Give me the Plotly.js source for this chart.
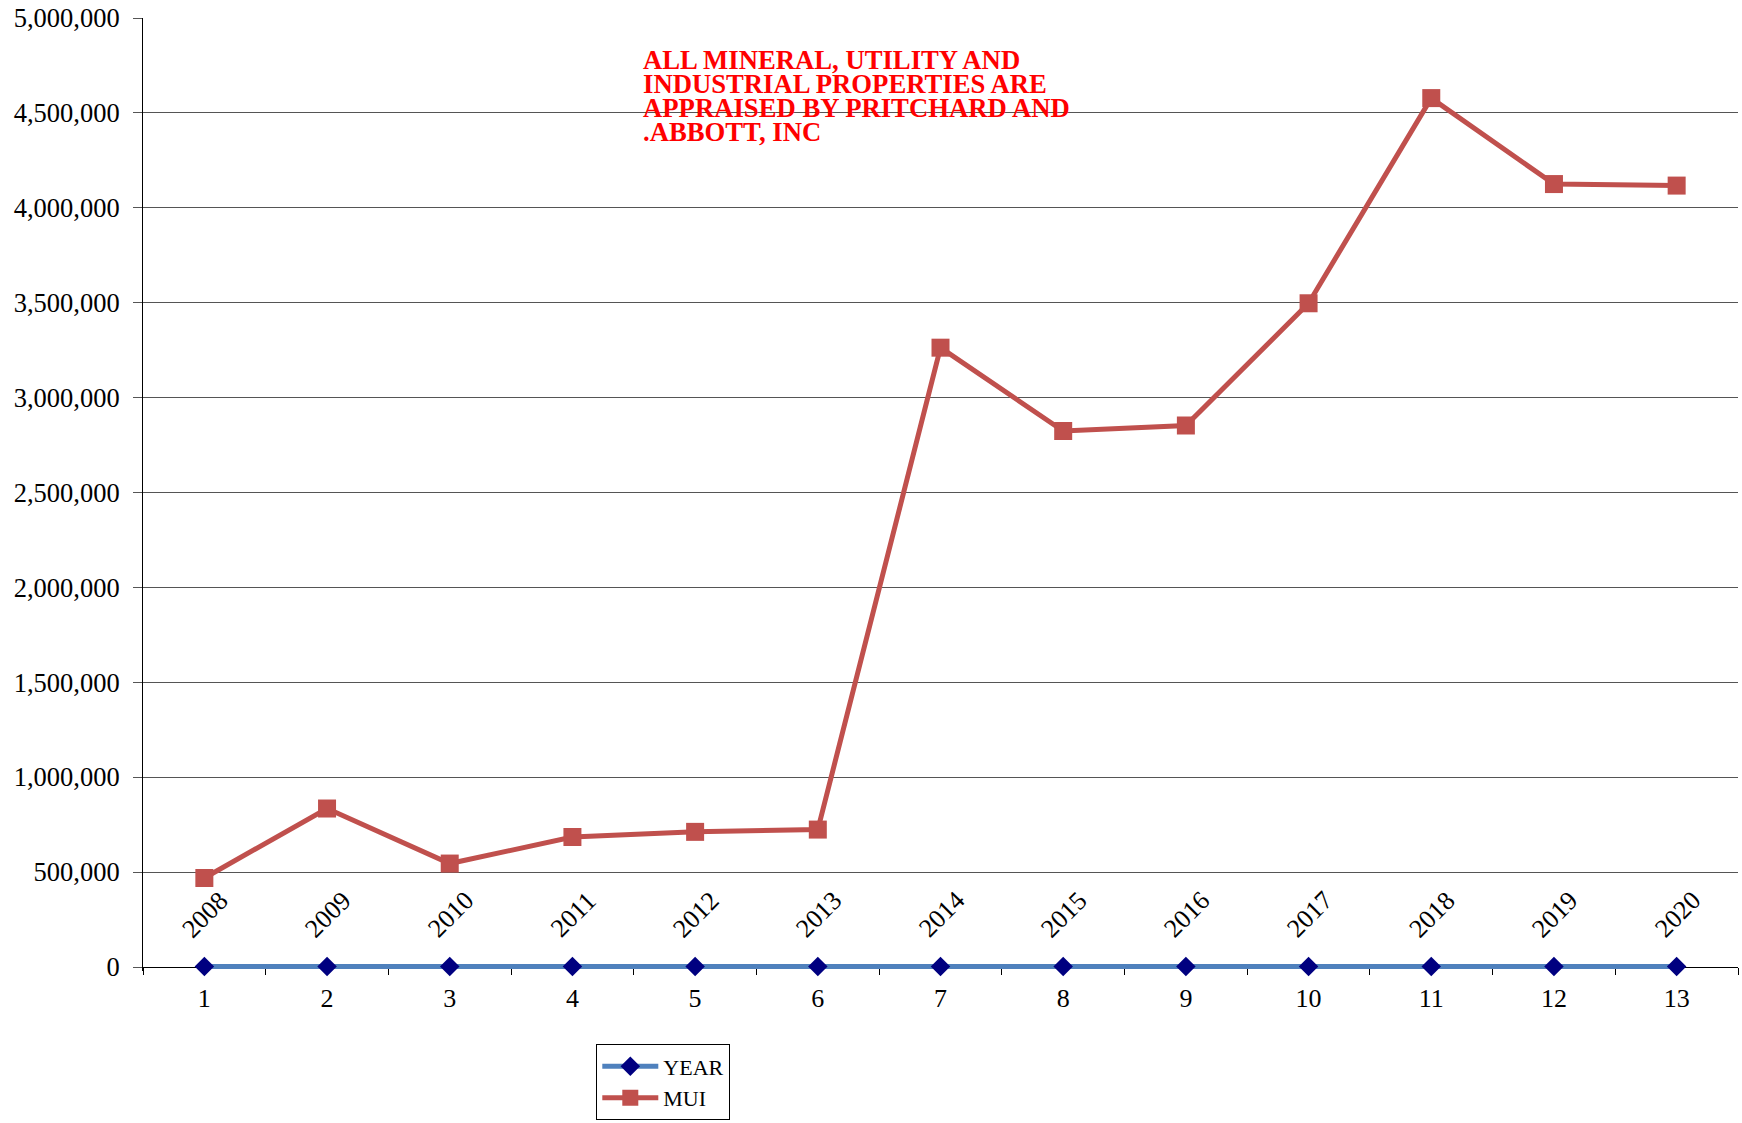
<!DOCTYPE html>
<html>
<head>
<meta charset="utf-8">
<script src="https://cdn.plot.ly/plotly-3.0.1.min.js"></script>
<style>
  html, body { margin: 0; padding: 0; background: #fff; }
  #chart { width: 1742px; height: 1123px; }
</style>
</head>
<body>
<div id="chart"></div>
<script>
// ---- data ----
const categories = ['1','2','3','4','5','6','7','8','9','10','11','12','13'];
const yearValues = [2008, 2009, 2010, 2011, 2012, 2013, 2014, 2015, 2016, 2017, 2018, 2019, 2020];
const muiValues = [469000, 835000, 545000, 685000, 712000, 724000, 3263000, 2824000, 2853000, 3497000, 4578000, 4125000, 4117000];
const noteLines = [
  'ALL MINERAL, UTILITY AND',
  'INDUSTRIAL PROPERTIES ARE',
  'APPRAISED BY PRITCHARD AND',
  '.ABBOTT, INC'
];
const seriesNames = ['YEAR', 'MUI'];

const FONT = 'Liberation Serif, Times New Roman, serif';

// small negative floor so the series lying on zero is not clipped
const Y_MIN = -21088, Y_MAX = 5000000;
const zeroPos = (0 - Y_MIN) / (Y_MAX - Y_MIN);

const traces = [
  {
    type: 'scatter', mode: 'lines+markers', name: seriesNames[0],
    x: categories, y: yearValues,
    line: { color: '#4F81BD', width: 5 },
    marker: { symbol: 'diamond', size: 15, color: '#000080' },
    cliponaxis: false
  },
  {
    type: 'scatter', mode: 'lines+markers', name: seriesNames[1],
    x: categories, y: muiValues,
    line: { color: '#C0504D', width: 5 },
    marker: { symbol: 'square', size: 18, color: '#C0504D' },
    cliponaxis: false
  }
];

const annotations = [];
categories.forEach((c, i) => {
  annotations.push({
    xref: 'x', yref: 'y', x: i, y: yearValues[i],
    text: String(yearValues[i]), showarrow: false,
    textangle: -45, xshift: 1, yshift: 52,
    font: { family: FONT, size: 26, color: '#000' }
  });
});
const noteY = [0.9562, 0.9305, 0.9055, 0.8801];
noteLines.forEach((t, i) => {
  annotations.push({
    xref: 'paper', yref: 'paper', x: 0.3125, y: noteY[i],
    xanchor: 'left', yanchor: 'middle',
    text: '<b>' + t + '</b>', showarrow: false,
    font: { family: FONT, size: 26.7, color: '#FF0000' }
  });
});

const layout = {
  width: 1742, height: 1123,
  margin: { l: 143, r: 4, t: 18, b: 152, autoexpand: false },
  paper_bgcolor: '#fff', plot_bgcolor: '#fff',
  font: { family: FONT, size: 24, color: '#000' },
  showlegend: true,
  legend: {
    x: 0.2842, y: -0.1568, xanchor: 'left', yanchor: 'bottom',
    bordercolor: '#000', borderwidth: 1, bgcolor: '#fff',
    font: { family: FONT, size: 22, color: '#000' },
    itemwidth: 56,
    tracegroupgap: 0
  },
  xaxis: {
    type: 'category', range: [-0.5, 12.5],
    anchor: 'free', position: zeroPos,
    tickson: 'boundaries', ticks: 'outside', ticklen: 7, tickcolor: '#000',
    showgrid: false, zeroline: false,
    showline: true, linecolor: '#000', linewidth: 1,
    layer: 'below traces',
    tickfont: { family: FONT, size: 26, color: '#000' },
    ticklabelstandoff: 8
  },
  yaxis: {
    range: [Y_MIN, Y_MAX], dtick: 500000, tick0: 0,
    tickformat: ',d',
    ticks: 'outside', ticklen: 9, tickcolor: '#555',
    showgrid: true, gridcolor: '#555', gridwidth: 1,
    zeroline: false,
    showline: true, linecolor: '#000', linewidth: 1,
    layer: 'below traces',
    tickfont: { family: FONT, size: 26.5, color: '#000' },
    ticklabelstandoff: 8
  },
  annotations: annotations
};

Plotly.newPlot('chart', traces, layout, { displayModeBar: false, staticPlot: true });
</script>
</body>
</html>
